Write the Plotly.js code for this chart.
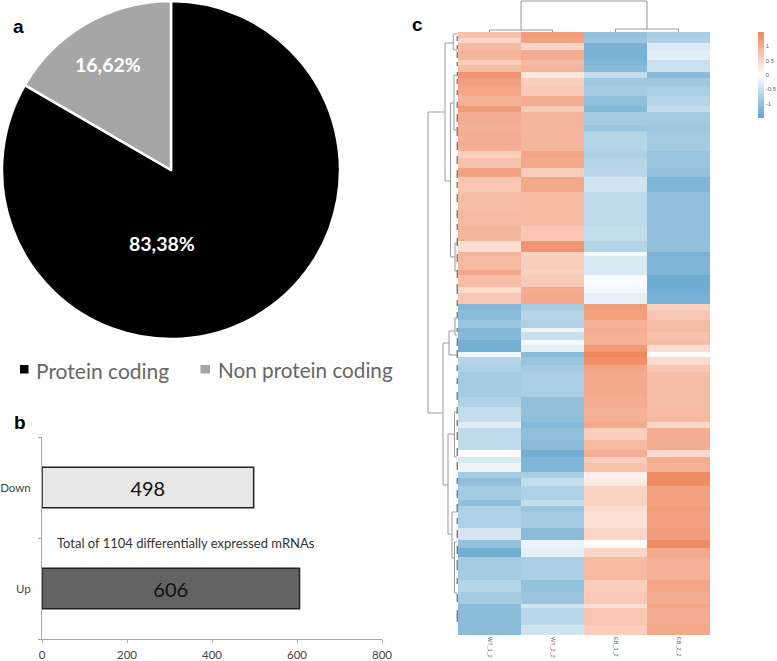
<!DOCTYPE html>
<html><head><meta charset="utf-8">
<script src="https://cdn.plot.ly/plotly-3.0.1.min.js"></script>
<style>html,body{margin:0;padding:0;background:#fff}#c{width:777px;height:661px}
.heatmaplayer image{filter:blur(0.7px)}</style></head>
<body><div id="c"></div>
<script>
// ---------- panel a ----------
const pieLabels = ['Protein coding', 'Non protein coding'];
const pieValues = [83.38, 16.62];
const pieColors = ['#000000', '#A6A6A6'];
const pieText = ['83,38%', '16,62%'];
// ---------- panel b ----------
const barCats = ['Up', 'Down'];
const barValues = [606, 498];
const barColors = ['#636363', '#E7E7E7'];
const barNote = 'Total of 1104 differentially expressed mRNAs';
// ---------- panel c ----------
const samples = ['WT_1_2', 'WT_2_2', 'EB_1_2', 'EB_2_2'];
// row-band edges along the clustered gene order
const rowEdges = [0,6,11,18,28,33,40,46,54,64,74,80,93,99,119,126,136,145,160,179,194,209,220,224,238,243,255,261,272,
 278,288,296,300,308,313,320,325,333,340,365,375,390,396,408,418,425,431,440,446,454,468,474,480,496,508,516,525,
 548,560,572,576,593,603];
const wt1 = [.75,.5,.85,.9,.6,.8,1.3,1.15,1.1,.95,1.2,1.0,.95,1.0,.6,.75,1.15,.7,.8,.85,.9,.4,.9,.85,1.05,.8,.45,.7,
 -1.15,-1.1,-.95,-1.15,-1.15,-1.3,-1.3,-.15,-.7,-.75,-.85,-.75,-.55,-.3,-.6,-.6,-.05,-.35,-.15,-.85,-1.05,-.85,-1.05,-.75,-.75,-.4,-1.0,-1.3,-.85,-.7,-.85,-1.1,-1.1,-1.1];
const wt2 = [1.2,1.15,.5,1.0,.85,.9,.3,.6,.65,1.0,.65,.9,.9,.9,1.1,1.05,.6,1.05,.85,.85,.7,1.3,.55,.6,.55,.65,1.0,1.05,
 -.85,-.7,-.75,-.2,-.5,-.1,-.25,-1.1,-.95,-.85,-.8,-1.0,-1.05,-1.15,-1.05,-1.1,-1.3,-1.2,-1.2,-.8,-.55,-.75,-.55,-.95,-.85,-1.1,-.2,-.25,-.8,-1.0,-.95,-.45,-.65,-.45];
const eb1 = [-1.0,-.95,-1.25,-1.25,-1.2,-1.1,-.55,-.9,-.85,-1.05,-1.15,-.85,-.95,-.7,-.75,-.7,-.65,-.45,-.6,-.6,-.55,-.7,-.1,-.35,-.35,-.05,-.1,-.25,
 1.2,1.15,.95,1.0,.95,.95,1.25,1.45,1.35,1.1,1.05,1.0,.95,1.05,.6,.85,1.0,.6,.75,.2,.25,.55,.55,.4,.35,.5,.05,.5,.85,.6,.65,.4,.7,.6];
const eb2 = [-.8,-.75,-.35,-.3,-.5,-.5,-1.1,-.9,-.8,-.7,-.55,-.85,-.9,-.85,-.95,-.95,-1.0,-1.2,-1.05,-1.05,-1.05,-1.0,-1.25,-1.2,-1.2,-1.35,-1.3,-1.25,
 .55,.7,.8,.85,.75,.8,.4,.05,.45,.7,.8,.8,.85,.5,1.0,1.0,.45,1.0,.95,1.4,1.4,1.15,1.15,1.2,1.15,1.2,1.4,1.05,.95,1.1,1.0,1.1,1.0,1.05];
const scaleTicks = [1, 0.5, 0, -0.5, -1];
const scaleColors = [[0,'#5FA3CC'],[0.5,'#FFFFFF'],[1,'#EF8459']];
// row dendrogram merges: [height, firstRow, lastRow, firstChildHeight, lastChildHeight]
const rowMerges = [
 [30,80,381,13,15],[13,11,149,4.7,7.5],[4.7,2,18,1,1],[7.5,71,225,4,3],[4,43,98,1.5,1.5],[3,211,239,1,1],
 [15,311,453,9,10],[9,299,323,3,1],[3,286,303,1,1],[10,402,502,3.5,6],[3.5,380,425,1,1],[6,480,526,1,3.5],[3.5,510,561,1,1]];
const leafMerges = [[4,9],[13,17],[20,26],[30,34],[40,44],[47,52],[58,63],[70,76],[82,90],[95,104],[110,118],[124,132],[138,146],[150,156],
 [162,170],[178,186],[192,198],[206,214],[222,230],[238,246],[252,262],[268,274],[280,286],[296,300],[306,314],[318,326],[333,339],
 [346,352],[360,368],[375,382],[388,394],[400,408],[416,424],[430,438],[446,452],[458,466],[472,480],[486,492],[498,506],[514,522],[528,538],[546,552],[562,570],[578,590]];
// column dendrogram merges: [height, firstCol, lastCol, firstChildHeight, lastChildHeight]
const colMerges = [[31,0.5,2.5,2,3],[2,0,1,0,0],[3,2,3,0,0]];

// layout helpers: page pixels to paper fractions
const W = 777, H = 661;
const fx = p => p / W, fy = p => 1 - p / H;
function rowLines(list){
  const x = [], y = [];
  list.forEach(m => { x.push(m[3], m[0], m[0], m[4], null); y.push(m[1], m[1], m[2], m[2], null); });
  return {x, y};
}
function colLines(list){
  const x = [], y = [];
  list.forEach(m => { x.push(m[1], m[1], m[2], m[2], null); y.push(m[3], m[0], m[0], m[4], null); });
  return {x, y};
}
const z = wt1.map((_, i) => [wt1[i], wt2[i], eb1[i], eb2[i]]);
const rl = rowLines(rowMerges);
const leaves = rowLines(leafMerges.map(m => [0.8, m[0], m[1], 0.8, 0.8]));
const cl = colLines(colMerges);
const grey = '#9A9A9A';

const data = [
 {type:'pie', labels:pieLabels, values:pieValues, sort:false, direction:'clockwise', rotation:0,
  marker:{colors:pieColors, line:{color:'#fff', width:2.5}}, textinfo:'none', hoverinfo:'label+percent',
  domain:{x:[fx(2),fx(340)], y:[fy(339),fy(1)]}, showlegend:false},
 {type:'bar', orientation:'h', y:barCats, x:barValues, xaxis:'x', yaxis:'y', width:0.4,
  marker:{color:barColors, line:{color:'#222', width:1.5}},
  text:barValues.map(String), textposition:'inside', insidetextanchor:'middle', textangle:0,
  insidetextfont:{family:'Lato', size:20, color:'#111'}, cliponaxis:false, showlegend:false},
 {type:'heatmap', x:samples, y:rowEdges, z:z, xaxis:'x2', yaxis:'y2', zmin:-1.5, zmax:1.5,
  colorscale:scaleColors, xgap:0, ygap:0,
  colorbar:{x:fx(758), xanchor:'left', y:fy(32), yanchor:'top', lenmode:'pixels', len:86, thicknessmode:'pixels', thickness:6,
   outlinewidth:0, tickvals:scaleTicks, ticktext:scaleTicks.map(String), ticks:'', xpad:0, ypad:0,
   tickfont:{family:'Liberation Sans', size:6, color:'#666'}}},
 {type:'scatter', mode:'lines', x:rl.x, y:rl.y, xaxis:'x3', yaxis:'y3', line:{color:grey, width:1}, hoverinfo:'skip', showlegend:false},
 {type:'scatter', mode:'lines', x:leaves.x, y:leaves.y, xaxis:'x3', yaxis:'y3', line:{color:'#444', width:1}, hoverinfo:'skip', showlegend:false},
 {type:'scatter', mode:'lines', x:cl.x, y:cl.y, xaxis:'x4', yaxis:'y4', line:{color:grey, width:1}, hoverinfo:'skip', showlegend:false}
];
const ann = (text,x,y,size,color,anchor,bold,family) => ({text: bold ? '<b>'+text+'</b>' : text, xref:'paper', yref:'paper',
  x:fx(x), y:fy(y), xanchor:anchor||'center', yanchor:'middle', showarrow:false,
  font:{family:family||'Lato', size:size, color:color}});
const hidden = {visible:false};
const layout = {
  width:W, height:H, autosize:false, margin:{l:0,r:0,t:0,b:0,pad:0,autoexpand:false},
  paper_bgcolor:'#fff', plot_bgcolor:'rgba(0,0,0,0)', showlegend:false,
  xaxis:{domain:[fx(42),fx(382)], range:[0,800], dtick:200, anchor:'y', showgrid:false, zeroline:false, showline:true,
    linecolor:'#A8A8A8', linewidth:1, ticks:'outside', ticklen:3, tickcolor:'#A8A8A8', ticklabelstandoff:2,
    tickfont:{family:'Lato', size:11.5, color:'#444'}, fixedrange:true},
  yaxis:{domain:[fy(639),fy(437)], type:'category', categoryorder:'array', categoryarray:barCats, range:[-0.5,1.5], anchor:'x',
    tickson:'boundaries', showgrid:false, zeroline:false, showline:true, linecolor:'#A8A8A8', linewidth:1,
    ticks:'outside', ticklen:3, tickcolor:'#A8A8A8', ticklabelstandoff:8, tickfont:{family:'Lato', size:11.5, color:'#444'}, fixedrange:true},
  xaxis2:{domain:[fx(458),fx(710)], type:'category', range:[-0.5,3.5], anchor:'y2', showgrid:false, zeroline:false, ticks:'',
    tickangle:90, tickfont:{family:'Liberation Sans', size:5.5, color:'#555'}, ticklabelstandoff:1, fixedrange:true},
  yaxis2:{domain:[fy(635),fy(32)], range:[603,0], anchor:'x2', ...hidden},
  xaxis3:{domain:[fx(426),fx(458)], range:[32,0], anchor:'y3', ...hidden},
  yaxis3:{domain:[fy(635),fy(32)], range:[603,0], anchor:'x3', ...hidden},
  xaxis4:{domain:[fx(458),fx(710)], range:[-0.5,3.5], anchor:'y4', ...hidden},
  yaxis4:{domain:[fy(32),fy(0)], range:[0,32], anchor:'x4', ...hidden},
  shapes:[
    {type:'rect', xref:'paper', yref:'paper', x0:fx(20), x1:fx(28.5), y0:fy(373.5), y1:fy(365), fillcolor:pieColors[0], line:{width:0}},
    {type:'rect', xref:'paper', yref:'paper', x0:fx(200.5), x1:fx(210), y0:fy(373.5), y1:fy(365), fillcolor:pieColors[1], line:{width:0}}
  ],
  annotations:[
    ann('a',18,26,19,'#000','center',true,'Liberation Sans'),
    ann('b',19.5,422,19,'#000','center',true,'Liberation Sans'),
    ann('c',418,24,19,'#000','center',true,'Liberation Sans'),
    ann(pieText[0],162,243,19.5,'#fff','center',true),
    ann(pieText[1],108,65,19.5,'#fff','center',true),
    ann(pieLabels[0],34,370,21,'#666','left'),
    ann(pieLabels[1],215.5,370,20.7,'#666','left'),
    ann(barNote,55,543,13,'#333','left')
  ]
};
Plotly.newPlot('c', data, layout, {displayModeBar:false});
</script></body></html>
